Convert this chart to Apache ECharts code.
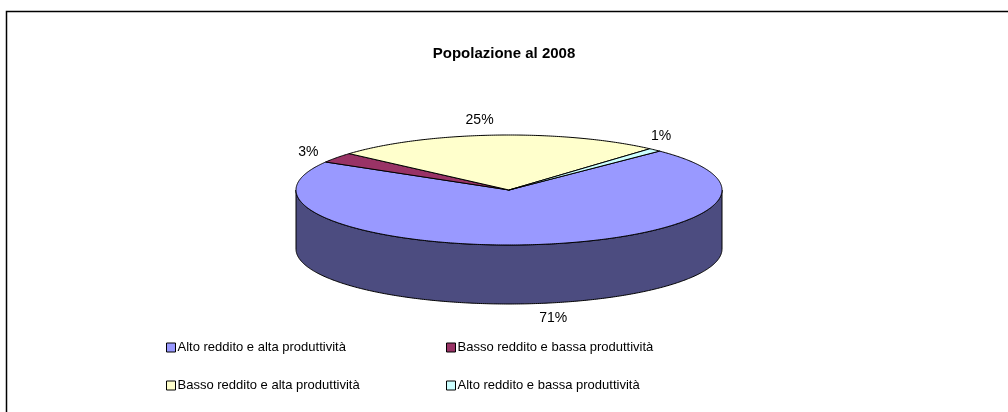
<!DOCTYPE html>
<html>
<head>
<meta charset="utf-8">
<script src="https://cdn.jsdelivr.net/npm/echarts@6/dist/echarts.min.js"></script>
<style>
  html, body { margin: 0; padding: 0; background: #fff; }
  #chart { width: 1008px; height: 412px; }
</style>
</head>
<body>
<div id="chart"></div>
<script>
  // dati
  const categories = [
    'Alto reddito e alta produttività',
    'Basso reddito e bassa produttività',
    'Basso reddito e alta produttività',
    'Alto reddito e bassa produttività'
  ];
  const values = [71, 3, 25, 1];
  const percentLabels = ['71%', '3%', '25%', '1%'];

  const topColors = ['#9999FF', '#993366', '#FFFFCC', '#CCFFFF'];
  const sideColors = ['#4C4C80', '#4C1933', '#808066', '#668080'];

  // geometria della torta "3D"
  const cx = 509, cy = 190, rx = 213, ry = 55, depth = 59;
  const startAngle = 45; // gradi, in senso orario dalle ore 12
  const labelShift = -3.5 * Math.PI / 180;
  const total = values.reduce((a, b) => a + b, 0);

  function pt(a, dy) {
    return [cx + rx * Math.sin(a), cy - ry * Math.cos(a) + (dy || 0)];
  }

  function arcPoints(a0, a1, dy) {
    const pts = [];
    const n = Math.max(2, Math.ceil(Math.abs(a1 - a0) / 0.01));
    for (let k = 0; k <= n; k++) {
      pts.push(pt(a0 + (a1 - a0) * k / n, dy));
    }
    return pts;
  }

  function makeRender(i) {
    return function (params, api) {
      let before = 0;
      for (let j = 0; j < i; j++) before += values[j];
      const v = api.value(0);
      const a0 = (startAngle + before / total * 360) * Math.PI / 180;
      const a1 = a0 + v / total * 2 * Math.PI;
      const children = [];

      // parete laterale (solo la metà davanti, tra 90° e 270°)
      for (let off = -2; off <= 2; off++) {
        const lo = Math.max(a0, Math.PI / 2 + off * 2 * Math.PI);
        const hi = Math.min(a1, Math.PI * 1.5 + off * 2 * Math.PI);
        if (hi > lo) {
          const top = arcPoints(lo, hi, 0);
          const bottom = arcPoints(hi, lo, depth);
          children.push({
            type: 'polygon',
            z2: 1,
            shape: { points: top.concat(bottom) },
            style: { fill: sideColors[i], stroke: '#000', lineWidth: 1 }
          });
        }
      }

      // faccia superiore
      children.push({
        type: 'polygon',
        z2: 10,
        shape: { points: [[cx, cy]].concat(arcPoints(a0, a1, 0)) },
        style: { fill: topColors[i], stroke: '#000', lineWidth: 1, lineJoin: 'round' }
      });

      // etichetta percentuale
      const mid = (a0 + a1) / 2 + labelShift;
      const s = Math.sin(mid), c = Math.cos(mid);
      children.push({
        type: 'text',
        z2: 20,
        style: {
          text: percentLabels[i],
          x: cx + (rx + 25) * s,
          y: cy - (ry + 15) * c + (c < 0 ? depth : 0),
          align: 'center',
          verticalAlign: 'middle',
          font: '14px "Liberation Sans", Arial, sans-serif',
          fill: '#000'
        }
      });

      return { type: 'group', children: children };
    };
  }

  const legendPos = [
    { left: 161, top: 336 },
    { left: 441, top: 336 },
    { left: 161, top: 374 },
    { left: 441, top: 374 }
  ];

  const chart = echarts.init(document.getElementById('chart'), null, { renderer: 'canvas' });
  chart.setOption({
    animation: false,
    backgroundColor: '#fff',
    title: {
      text: 'Popolazione al 2008',
      left: 'center',
      top: 41,
      textStyle: {
        fontFamily: '"Liberation Sans", Arial, sans-serif',
        fontSize: 15,
        fontWeight: 'bold',
        color: '#000'
      }
    },
    legend: categories.map((name, i) => ({
      data: [name],
      left: legendPos[i].left,
      top: legendPos[i].top,
      icon: 'rect',
      itemWidth: 9,
      itemHeight: 9,
      itemGap: 0,
      selectedMode: false,
      itemStyle: { borderColor: '#000', borderWidth: 1 },
      textStyle: {
        fontFamily: '"Liberation Sans", Arial, sans-serif',
        fontSize: 13,
        color: '#000',
        padding: [0, 0, 0, -3]
      }
    })),
    graphic: [{
      type: 'rect',
      shape: { x: 6.5, y: 11.5, width: 1010, height: 410 },
      style: { fill: 'none', stroke: '#000', lineWidth: 1.5 },
      silent: true
    }],
    series: categories.map((name, i) => ({
      type: 'custom',
      name: name,
      coordinateSystem: 'none',
      itemStyle: { color: topColors[i] },
      data: [values[i]],
      renderItem: makeRender(i)
    }))
  });

  window.addEventListener('resize', () => chart.resize());
</script>
</body>
</html>
